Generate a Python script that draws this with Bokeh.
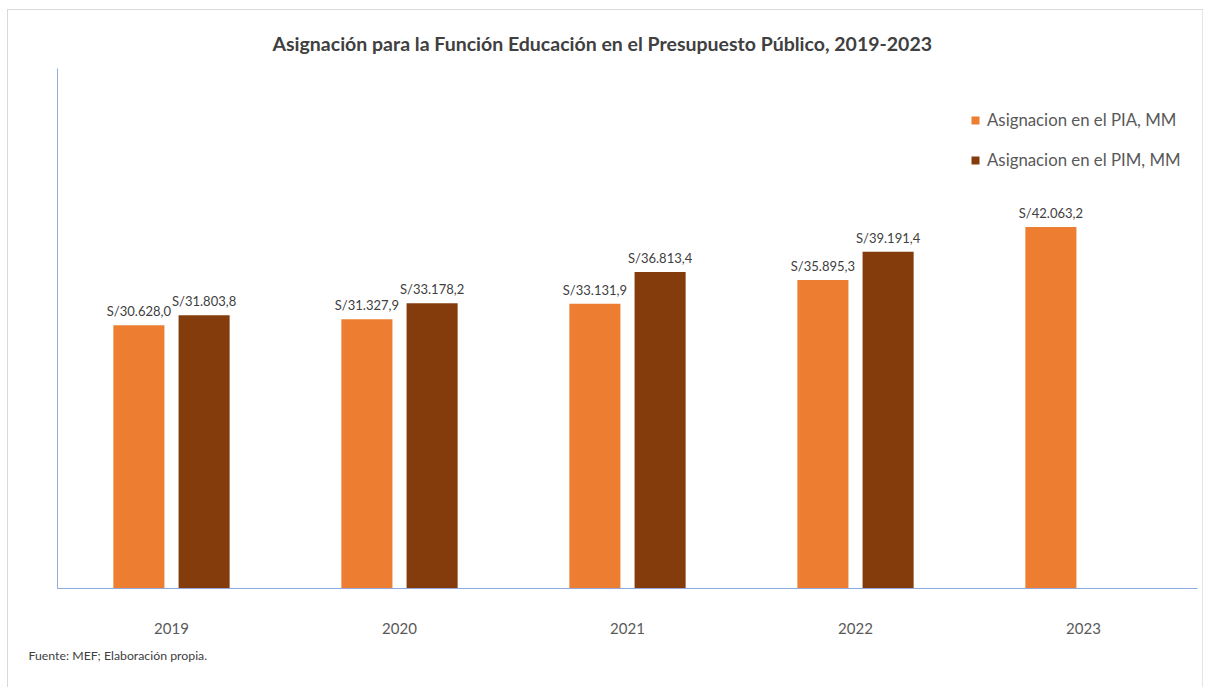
from bokeh.plotting import figure
from bokeh.models import (ColumnDataSource, FactorRange, Range1d, Legend,
                          LegendItem, FixedTicker, Title)
from bokeh.transform import dodge
from bokeh.core.properties import value
from bokeh.embed import file_html
from bokeh.resources import INLINE

# ---- data ----
years = ["2019", "2020", "2021", "2022", "2023"]
pia = [30628.0, 31327.9, 33131.9, 35895.3, 42063.2]
pia_labels = ["S/30.628,0", "S/31.327,9", "S/33.131,9", "S/35.895,3", "S/42.063,2"]
pim_years = ["2019", "2020", "2021", "2022"]
pim = [31803.8, 33178.2, 36813.4, 39191.4]
pim_labels = ["S/31.803,8", "S/33.178,2", "S/36.813,4", "S/39.191,4"]

series_names = ["Asignacion en el PIA, MM", "Asignacion en el PIM, MM"]
title_text = "Asignación para la Función Educación en el Presupuesto Público, 2019-2023"
source_text = "Fuente:  MEF; Elaboración propia."

ORANGE = "#ED7D31"
BROWN = "#843C0C"
FONT = "Lato"

src_pia = ColumnDataSource(dict(year=years, val=pia, lab=pia_labels))
src_pim = ColumnDataSource(dict(year=pim_years, val=pim, lab=pim_labels))

YMAX = 60500
p = figure(x_range=FactorRange(*years), y_range=Range1d(0, YMAX),
           width=1196, height=678, output_backend="svg", toolbar_location=None,
           min_border_left=49, min_border_right=7, min_border_top=58,
           min_border_bottom=100)
p.styles = {"margin-top": "9px", "margin-left": "7px",
            "border-top": "1px solid #d9d9d9", "border-left": "1px solid #d9d9d9",
            "border-right": "1px solid #e4e4e4"}
p.outline_line_color = None
p.grid.visible = False
p.background_fill_color = "white"

# title
p.title.text = title_text
p.title.align = "left"
p.title.offset = 215
p.title.standoff = 27
p.title.text_font = FONT
p.title.text_font_size = "19.5px"
p.title.text_font_style = "bold"
p.title.text_color = "#404040"

OFF = 0.143
W = 0.224
r1 = p.vbar(x=dodge("year", -OFF, range=p.x_range), top="val", width=W,
            source=src_pia, fill_color=ORANGE, line_color=None)
r2 = p.vbar(x=dodge("year", OFF, range=p.x_range), top="val", width=W,
            source=src_pim, fill_color=BROWN, line_color=None)

for src, off in ((src_pia, -OFF), (src_pim, OFF)):
    p.text(x=dodge("year", off, range=p.x_range), y="val", text="lab", source=src,
           text_align="center", text_baseline="middle", y_offset=-14,
           text_font=value(FONT), text_font_size="13px", text_color="#404040")

# axes
p.yaxis.ticker = FixedTicker(ticks=[])
p.yaxis.major_label_text_font_size = "0px"
p.yaxis.major_tick_line_color = None
p.yaxis.minor_tick_line_color = None
p.yaxis.axis_line_color = "#8FAADC"

p.xaxis.axis_line_color = "#8FAADC"
p.xaxis.major_tick_line_color = None
p.xaxis.minor_tick_line_color = None
p.xaxis.major_label_standoff = 28
p.xaxis.major_label_text_font = FONT
p.xaxis.major_label_text_font_size = "15px"
p.xaxis.major_label_text_color = "#595959"

# legend
legend = Legend(items=[LegendItem(label=series_names[0], renderers=[r1]),
                       LegendItem(label=series_names[1], renderers=[r2])],
                location=(913, 418), glyph_width=10, glyph_height=10,
                label_standoff=7, spacing=19, label_height=20, padding=10,
                background_fill_alpha=0, border_line_color=None,
                label_text_font=FONT, label_text_font_size="16.8px",
                label_text_color="#595959")
p.add_layout(legend)

# source note
p.add_layout(Title(text=source_text, align="left", offset=-29, standoff=18,
                   text_font=FONT, text_font_size="12.3px", text_font_style="normal",
                   text_color="#404040"), "below")

open("out.html", "w").write(file_html(p, INLINE))
